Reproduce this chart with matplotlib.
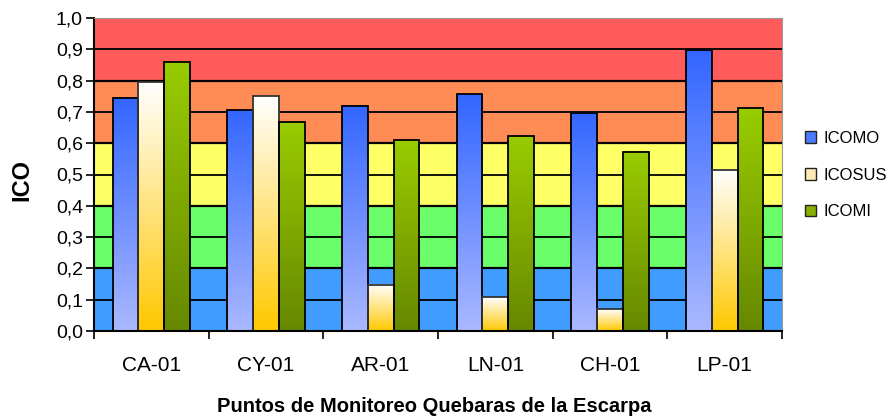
import numpy as np
import matplotlib
matplotlib.use("Agg")
import matplotlib.pyplot as plt
from matplotlib.colors import LinearSegmentedColormap
from matplotlib.patches import Rectangle, Patch

plt.rcParams["font.family"] = ["Liberation Sans", "DejaVu Sans"]

# data
stations = ["CA-01", "CY-01", "AR-01", "LN-01", "CH-01", "LP-01"]
icomo = [0.745, 0.705, 0.72, 0.757, 0.697, 0.898]
icosus = [0.795, 0.75, 0.147, 0.108, 0.07, 0.515]
icomi = [0.86, 0.668, 0.61, 0.623, 0.572, 0.712]
series_names = ["ICOMO", "ICOSUS", "ICOMI"]

band_edges = [0.0, 0.2, 0.4, 0.6, 0.8, 1.0]
band_colors = ["#409CFF", "#6AFF6A", "#FFFF66", "#FF8C55", "#FF5B5B"]

gradients = {
    "ICOMO": ("#3366FF", "#AAB8FF"),
    "ICOSUS": ("#FFFFFF", "#FFC800"),
    "ICOMI": ("#99CC00", "#668800"),
}
legend_colors = {"ICOMO": "#4D7BFF", "ICOSUS": "#FFE9B5", "ICOMI": "#88B000"}

fig = plt.figure(figsize=(8.9, 4.16), dpi=100)
ax = fig.add_axes([94 / 890, 1 - 331 / 416, 688 / 890, 313 / 416])

# coloured quality bands
for lo, hi, c in zip(band_edges[:-1], band_edges[1:], band_colors):
    ax.axhspan(lo, hi, color=c, zorder=0, lw=0)
for y in np.arange(0.1, 1.0, 0.1):
    ax.axhline(y, color="black", lw=1.6 if round(y * 10) % 2 == 0 else 1.3, zorder=1)

width = 0.225
x = np.arange(len(stations))
grad = np.linspace(0, 1, 256).reshape(-1, 1)
for k, (name, vals) in enumerate(zip(series_names, [icomo, icosus, icomi])):
    top, bot = gradients[name]
    cmap = LinearSegmentedColormap.from_list(name, [top, bot])
    for xi, v in zip(x + (k - 1) * width, vals):
        x0, x1 = xi - width / 2, xi + width / 2
        ax.imshow(grad, cmap=cmap, extent=(x0, x1, 0, v), aspect="auto",
                  origin="upper", zorder=2, interpolation="bilinear")
        ec = "#333333" if name == "ICOSUS" else "black"
        ax.add_patch(Rectangle((x0, 0), width, v, fill=False, ec=ec, lw=1.3, zorder=3))

ax.set_xlim(-0.5, len(stations) - 0.5)
ax.set_ylim(0, 1.0)

ax.set_yticks(np.arange(0, 1.01, 0.1))
ax.set_yticklabels([f"{v:.1f}".replace(".", ",") for v in np.arange(0, 1.01, 0.1)], fontsize=14)
ax.set_xticks(x)
ax.set_xticklabels(stations, fontsize=15)
ax.set_xticks(np.arange(-0.5, len(stations), 1.0), minor=True)
ax.tick_params(axis="x", which="major", length=0, pad=18)
ax.tick_params(axis="x", which="minor", length=6, width=1.2, direction="out")
ax.tick_params(axis="y", length=6, width=1.2, direction="out", pad=2)

ax.spines["left"].set_linewidth(1.5)
ax.spines["bottom"].set_linewidth(1.5)
ax.spines["right"].set_color("#999999")
ax.spines["top"].set_color("#999999")
for s in ax.spines.values():
    s.set_zorder(5)

fig.text(22 / 890, 1 - 180 / 416, "ICO", fontsize=17, fontweight="bold",
         rotation=90, ha="center", va="center")
fig.text(434 / 890, 1 - 407 / 416, "Puntos de Monitoreo Quebaras de la Escarpa",
         fontsize=14.5, fontweight="bold", ha="center", va="center")

handles = [Patch(facecolor=legend_colors[n], edgecolor="#222222", lw=1.0) for n in series_names]
fig.legend(handles, series_names, loc="center left", bbox_to_anchor=(793 / 890, 1 - 175 / 416),
           frameon=False, fontsize=12, handlelength=0.7, handleheight=0.7,
           handletextpad=0.4, labelspacing=1.3, borderpad=0.2)

fig.savefig("out.png", dpi=100, facecolor="white")
